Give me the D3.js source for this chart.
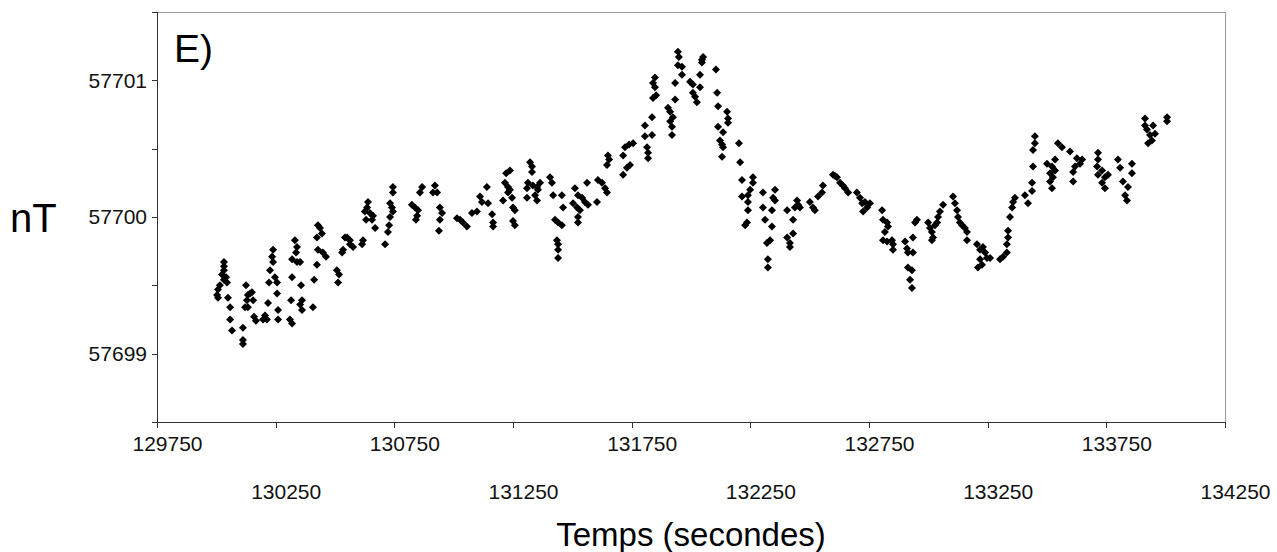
<!DOCTYPE html>
<meta charset="utf-8">
<head>
<style>
body { margin: 0; background: #fff; }
svg { display: block; font-family: "Liberation Sans", Arial, sans-serif; }
.axis path, .axis line { stroke: #333; fill: none; shape-rendering: crispEdges; }
.axis text { font-size: 21px; fill: #111; }
</style>
<script src="https://d3js.org/d3.v7.min.js"></script>
</head>
<body>
<div id="chart"></div>
<script>

// time (s) and field (nT)
var times = [
  130003,130007,130007,130015,130024,130032,130032,130032,130032,130041,130045,130049,130058,130058,130066,
  130112,130112,130112,130121,130125,130129,130133,130133,130142,130150,130155,130159,130167,
  130197,130205,130213,130218,130222,130226,130235,130239,130239,130247,130256,130256,130260,130260,
  130310,130315,130319,130319,130319,130331,130336,130340,130340,130353,130357,130361,130353,130361,
  130407,130412,130424,130424,130428,130428,130437,130445,130449,130462,
  130508,130513,130517,130530,130534,130542,130551,130563,130563,130576,
  130614,130618,130626,130631,130635,130639,130647,130656,130660,130669,
  130711,130723,130728,130732,130732,130740,130744,130744,130744,
  130824,130837,130850,130846,130841,130858,130867,
  130913,130921,130930,130938,130942,130942,130951,
  131014,131027,131039,131056,
  131077,131098,131111,131119,131140,131145,131162,131166,131166,
  131208,131216,131221,131229,131229,131237,131237,131246,131250,131258,131250,131258,
  131309,131309,131313,131322,131330,131330,131334,131343,131351,131351,131355,131364,
  131406,131414,131419,131427,131435,131440,131440,131440,131440,131456,131456,131461,
  131503,131511,131520,131524,131524,131524,131532,131541,131553,131562,131566,131604,131608,131625,131638,131646,131646,131655,131650,
  131714,131714,131722,131730,131739,131743,131756,131806,131806,131815,131819,131819,131836,131836,
  131840,131840,131848,131848,131853,131903,131912,131912,131920,131924,131920,131933,131933,131945,131949,131945,131962,131962,
  131996,132008,132008,132017,132025,132038,132038,132046,132046,132051,
  132105,132110,132114,132152,132156,132156,132114,132135,132122,132131,132135,132131,
  132202,132207,132215,132215,132236,132228,132240,132240,132240,132249,132261,132261,
  132303,132303,132312,132320,132324,132324,132333,132341,132341,132346,132354,132354,
  132405,132405,132417,132417,132430,132430,132438,132447,132451,132459,
  132501,132514,132522,132535,132552,132556,132598,132607,132615,132628,132640,132649,132662,
  132699,132712,132721,132733,132742,132725,132754,
  132805,132809,132817,132826,132830,132809,132826,132847,132851,132851,
  132902,132910,132914,132935,132935,132914,132931,132923,132931,132944,132952,
  132999,133007,133015,133020,133015,133028,133037,133041,133049,133062,
  133104,133112,133121,133125,133133,133142,133154,133163,133163,
  133205,133209,133218,133218,133226,133230,133239,133247,133260,
  133302,133315,133331,133331,133336,133336,133344,133353,133357,133365,
  133407,133420,133437,133437,133441,133441,133449,133449,
  133500,133513,133521,133525,133513,133521,133534,133534,133546,133563,
  133597,133626,133648,133639,133618,133610,133610,
  133715,133715,133711,133732,133715,133744,133757,133732,133744,
  133799,133808,133858,133858,133820,133841,133829,133837,
  133913,133913,133921,133934,133926,133947,133955,133942,134006,134006
];

var field = [
  57699.43,57699.47,57699.41,57699.50,57699.58,57699.67,57699.64,57699.61,57699.54,57699.56,57699.52,57699.41,57699.34,57699.25,57699.17,
  57699.19,57699.10,57699.07,57699.34,57699.50,57699.39,57699.43,57699.34,57699.44,57699.45,57699.39,57699.27,57699.24,
  57699.25,57699.28,57699.25,57699.37,57699.52,57699.61,57699.71,57699.76,57699.67,57699.56,57699.52,57699.44,57699.32,57699.25,
  57699.25,57699.39,57699.69,57699.56,57699.22,57699.83,57699.74,57699.78,57699.67,57699.67,57699.50,57699.39,57699.36,57699.32,
  57699.34,57699.54,57699.65,57699.85,57699.94,57699.76,57699.92,57699.88,57699.74,57699.71,
  57699.61,57699.52,57699.58,57699.74,57699.76,57699.85,57699.85,57699.83,57699.80,57699.78,
  57699.80,57699.83,57700.04,57699.98,57700.07,57700.11,57700.03,57699.98,57700.01,57699.92,
  57699.80,57699.89,57699.94,57700.00,57700.10,57700.07,57700.04,57700.22,57700.18,
  57700.09,57700.07,57700.05,57700.01,57699.98,57700.18,57700.22,
  57700.18,57700.23,57700.18,57699.90,57700.07,57699.98,57700.03,
  57699.99,57699.98,57699.96,57699.93,
  57700.03,57700.04,57700.15,57700.11,57700.22,57700.10,57700.02,57699.96,57699.93,
  57700.12,57700.25,57700.32,57700.22,57700.18,57700.34,57700.20,57700.14,57700.07,57700.05,57699.97,57699.94,
  57700.21,57700.14,57700.25,57700.40,57700.37,57700.33,57700.23,57700.16,57700.22,57700.12,57700.20,57700.25,
  57700.29,57700.25,57700.16,57699.98,57699.83,57699.96,57699.80,57699.76,57699.70,57700.16,57699.94,57700.07,
  57700.10,57700.21,57700.07,57700.16,57700.00,57699.96,57700.05,57700.14,57700.11,57700.25,57700.09,57700.11,57700.27,57700.25,57700.21,57700.18,57700.38,57700.42,57700.45,
  57700.45,57700.31,57700.51,57700.36,57700.53,57700.38,57700.54,57700.67,57700.59,57700.51,57700.47,57700.43,57700.73,57700.60,
  57700.98,57700.87,57701.02,57700.95,57700.89,57700.80,57700.77,57700.70,57700.66,57700.73,57700.60,57700.98,57700.86,57701.21,57701.17,57701.11,57701.10,57701.04,
  57700.99,57700.97,57700.91,57700.88,57700.84,57700.95,57701.04,57701.15,57701.13,57701.17,
  57701.08,57700.91,57700.81,57700.77,57700.72,57700.69,57700.66,57700.62,57700.56,57700.53,57700.51,57700.44,
  57700.54,57700.40,57700.27,57700.15,57699.96,57699.94,57700.16,57700.11,57700.05,57700.20,57700.29,57700.25,
  57700.18,57700.07,57699.98,57699.81,57699.69,57699.63,57699.83,57700.05,57699.93,57700.14,57700.20,57700.12,
  57700.05,57699.85,57699.81,57699.78,57699.98,57699.88,57700.07,57700.12,57700.09,57700.07,
  57700.11,57700.07,57700.05,57700.15,57700.18,57700.23,57700.31,57700.30,57700.29,57700.25,57700.23,57700.21,57700.18,
  57700.18,57700.14,57700.10,57700.11,57700.07,57700.04,57700.10,
  57700.05,57699.98,57699.89,57699.96,57699.93,57699.83,57699.82,57699.83,57699.80,57699.76,
  57699.82,57699.77,57699.74,57699.85,57699.74,57699.63,57699.61,57699.54,57699.48,57699.96,57699.98,
  57699.96,57699.92,57699.89,57699.85,57699.83,57699.94,57699.96,57700.00,57700.04,57700.09,
  57700.15,57700.10,57700.05,57700.00,57699.96,57699.94,57699.92,57699.89,57699.83,
  57699.80,57699.63,57699.76,57699.69,57699.65,57699.78,57699.74,57699.70,57699.70,
  57699.69,57699.71,57699.74,57699.80,57699.85,57699.90,57700.00,57700.07,57700.11,57700.14,
  57700.16,57700.10,57700.25,57700.19,57700.37,57700.49,57700.59,57700.54,
  57700.39,57700.32,57700.37,57700.29,57700.26,57700.21,57700.42,57700.34,57700.54,57700.51,
  57700.48,57700.43,57700.42,57700.39,57700.37,57700.33,57700.26,
  57700.47,57700.42,57700.37,57700.34,57700.31,57700.29,57700.31,57700.25,57700.21,
  57700.42,57700.36,57700.39,57700.32,57700.26,57700.22,57700.16,57700.12,
  57700.72,57700.67,57700.64,57700.60,57700.54,57700.67,57700.61,57700.56,57700.73,57700.70
];

var xTicks = [129750, 130250, 130750, 131250, 131750, 132250, 132750, 133250, 133750, 134250];
var yTicks = [57698.5, 57699, 57699.5, 57700, 57700.5, 57701, 57701.5];

var margin = {top: 12, right: 52, bottom: 130, left: 157},
  width = 1277 - margin.left - margin.right,
  height = 552 - margin.top - margin.bottom;

var svg = d3.select("#chart").append("svg")
  .attr("width", 1277)
  .attr("height", 552);

svg.append("rect").attr("width", 1277).attr("height", 552).attr("fill", "#fff");

var g = svg.append("g")
  .attr("transform", "translate(" + margin.left + "," + margin.top + ")");

var x = d3.scaleLinear().domain([129750, 134250]).range([0, width]);
var y = d3.scaleLinear().domain([57698.5, 57701.5]).range([height, 0]);

// frame
g.append("rect")
  .attr("width", width).attr("height", height)
  .attr("fill", "none").attr("stroke", "#999").attr("stroke-width", 1)
  .attr("shape-rendering", "crispEdges");

// x axis, labels on two alternating rows
var xAx = g.append("g")
  .attr("class", "axis")
  .attr("transform", "translate(0," + height + ")")
  .call(d3.axisBottom(x).tickValues(xTicks).tickSize(6).tickFormat(d3.format("d")));
xAx.selectAll(".tick text")
  .attr("x", 10)
  .attr("y", function(d, i) { return i % 2 ? 62 : 14; })
  .attr("dy", "0.71em");

// y axis, labels only on whole nT
g.append("g")
  .attr("class", "axis")
  .call(d3.axisLeft(y).tickValues(yTicks).tickSize(5)
    .tickFormat(function(d) { return d % 1 === 0 ? d3.format("d")(d) : ""; }))
  .selectAll(".tick text").attr("x", -10);

// points
var pts = times.map(function(t, i) { return {t: t, v: field[i]}; });
var diamond = d3.symbol().type(d3.symbolSquare).size(32);
g.selectAll(".pt")
  .data(pts)
  .enter().append("path")
    .attr("class", "pt")
    .attr("d", diamond)
    .attr("transform", function(d) { return "translate(" + x(d.t) + "," + y(d.v) + ") rotate(45)"; })
    .attr("fill", "#000");

// labels
g.append("text")
  .attr("x", 17).attr("y", 50)
  .style("font-size", "39px")
  .text("E)");

svg.append("text")
  .attr("x", 10).attr("y", 232)
  .style("font-size", "40px")
  .text("nT");

svg.append("text")
  .attr("x", margin.left + width / 2).attr("y", 546)
  .attr("text-anchor", "middle")
  .style("font-size", "33px")
  .text("Temps (secondes)");

</script>
</body>
</html>
